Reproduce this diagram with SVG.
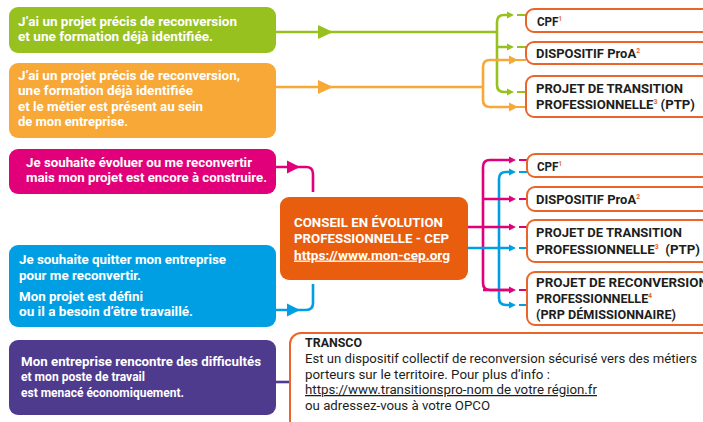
<svg xmlns="http://www.w3.org/2000/svg" width="703" height="422" viewBox="0 0 703 422">
<style>
.bt{font-family:Roboto,"Liberation Sans",sans-serif;font-weight:bold;font-size:13.5px;fill:#fff}
.rt{font-family:Roboto,"Liberation Sans",sans-serif;font-weight:bold;font-size:13.5px;fill:#1d1d1b}
.sup{font-size:7px;fill:#e9652a}
.nt{font-family:Roboto,"Liberation Sans",sans-serif;font-size:12.5px;fill:#1d1d1b}
.opt{fill:#fff;stroke:#e9652a;stroke-width:2}
.c{fill:none;stroke-width:2.6;stroke-linejoin:round}
.s{fill:none;stroke-width:2.2}
.t{stroke:none}
</style>

<g id="n-green">
<rect x="9" y="7" width="267" height="46" rx="9" fill="#97c11f"/>
<text class="bt" x="18" y="26" textLength="219" lengthAdjust="spacingAndGlyphs">J’ai un projet précis de reconversion</text>
<text class="bt" x="18" y="41" textLength="195" lengthAdjust="spacingAndGlyphs">et une formation déjà identifiée.</text>
</g>

<g id="n-orange">
<rect x="9" y="63" width="267" height="75" rx="9" fill="#f7a836"/>
<text class="bt" x="18" y="79.5" textLength="222" lengthAdjust="spacingAndGlyphs">J’ai un projet précis de reconversion,</text>
<text class="bt" x="18" y="95" textLength="175" lengthAdjust="spacingAndGlyphs">une formation déjà identifiée</text>
<text class="bt" x="18" y="110.5" textLength="185" lengthAdjust="spacingAndGlyphs">et le métier est présent au sein</text>
<text class="bt" x="18" y="126" textLength="110" lengthAdjust="spacingAndGlyphs">de mon entreprise.</text>
</g>

<g id="n-pink">
<rect x="9" y="149" width="267" height="45" rx="9" fill="#e2007a"/>
<text class="bt" x="26" y="166.5" textLength="226" lengthAdjust="spacingAndGlyphs">Je souhaite évoluer ou me reconvertir</text>
<text class="bt" x="26" y="181.5" textLength="241" lengthAdjust="spacingAndGlyphs">mais mon projet est encore à construire.</text>
</g>

<g id="n-blue">
<rect x="9" y="245" width="267" height="82" rx="9" fill="#009fe3"/>
<text class="bt" x="19" y="264" textLength="207" lengthAdjust="spacingAndGlyphs">Je souhaite quitter mon entreprise</text>
<text class="bt" x="19" y="279.5" textLength="122" lengthAdjust="spacingAndGlyphs">pour me reconvertir.</text>
<text class="bt" x="19" y="300.5" textLength="124" lengthAdjust="spacingAndGlyphs">Mon projet est défini</text>
<text class="bt" x="19" y="316" textLength="174" lengthAdjust="spacingAndGlyphs">ou il a besoin d’être travaillé.</text>
</g>

<g id="n-purple">
<rect x="9" y="340" width="267" height="75" rx="9" fill="#4e3b8e"/>
<text class="bt" x="21" y="366" textLength="240" lengthAdjust="spacingAndGlyphs">Mon entreprise rencontre des difficultés</text>
<text class="bt" x="21" y="381" textLength="124" lengthAdjust="spacingAndGlyphs">et mon poste de travail</text>
<text class="bt" x="21" y="396.5" textLength="163" lengthAdjust="spacingAndGlyphs">est menacé économiquement.</text>
</g>

<g id="n-cep">
<rect x="280" y="197" width="188" height="83" rx="9" fill="#e85e0e"/>
<text class="bt" x="294" y="226.5" textLength="149" lengthAdjust="spacingAndGlyphs">CONSEIL EN ÉVOLUTION</text>
<text class="bt" x="294" y="243" textLength="155" lengthAdjust="spacingAndGlyphs">PROFESSIONNELLE - CEP</text>
<text class="bt" x="294" y="259.5" textLength="156" lengthAdjust="spacingAndGlyphs" text-decoration="underline">https://www.mon-cep.org</text>
</g>

<g id="connectors">
<g stroke="#97c11f" fill="#97c11f">
<path class="c" d="M276,32 H497"/>
<path class="c" d="M508,15 H504 Q497,15 497,22 V85 Q497,92 504,92 H508 M497,47 H508"/>
<path class="t" d="M318,25 L333,32 L318,39 Z"/>
<path class="t" d="M507,11.5 L514,15 L507,18.5 Z M507,43.5 L514,47 L507,50.5 Z M507,88.5 L514,92 L507,95.5 Z"/>
<path class="s" d="M517,15 H526 M517,47 H526 M517,92 H526"/>
</g>
<g stroke="#f7a836" fill="#f7a836">
<path class="c" d="M276,87 H483"/>
<path class="c" d="M512,60 H490 Q483,60 483,67 V100 Q483,107 490,107 H512"/>
<path class="t" d="M318,80 L333,87 L318,94 Z"/>
<path class="t" d="M509,55.5 L518,60 L509,64.5 Z M509,102.5 L518,107 L509,111.5 Z"/>
<path class="s" d="M516,60 H526 M516,107 H526"/>
</g>
<g stroke="#e2007a" fill="#e2007a">
<path class="c" d="M276,167 H306 Q313,167 313,174 V192"/>
<path class="t" d="M287,160.5 L300,167 L287,173.5 Z"/>
</g>
<g stroke="#009fe3" fill="#009fe3">
<path class="c" d="M276,310 H306 Q313,310 313,303 V284"/>
<path class="t" d="M287,303.5 L300,310 L287,316.5 Z"/>
</g>
<path class="c" stroke="#e2007a" d="M509,160 H490 Q483,160 483,167 V283 Q483,290 490,290 H509"/>
<path class="c" stroke="#009fe3" d="M509,172 H506 Q499,172 499,179 V298 Q499,305 506,305 H509"/>
<g stroke="#e2007a" fill="#e2007a">
<path class="c" d="M468,227 H509 M483,199 H509 M483,290 H509"/>
<path class="t" d="M509,156.5 L516,160 L509,163.5 Z M509,195.5 L516,199 L509,202.5 Z M509,223.5 L516,227 L509,230.5 Z M509,286.5 L516,290 L509,293.5 Z"/>
<path class="s" d="M519,160 H527 M519,199 H527 M519,227 H527 M519,290 H527"/>
</g>
<g stroke="#009fe3" fill="#009fe3">
<path class="c" d="M468,248 H509"/>
<path class="t" d="M509,168.5 L516,172 L509,175.5 Z M509,244.5 L516,248 L509,251.5 Z M509,301.5 L516,305 L509,308.5 Z"/>
<path class="s" d="M519,172 H527 M519,248 H527 M519,305 H527"/>
</g>
<path class="c" stroke="#4e3b8e" d="M276,382 H291"/>
</g>

<g id="o-cpf1">
<rect class="opt" x="526" y="9" width="200" height="23" rx="8"/>
<text class="rt" x="537" y="25.5" textLength="25" lengthAdjust="spacingAndGlyphs">CPF<tspan class="sup" dy="-5">1</tspan></text>
</g>
<g id="o-proa1">
<rect class="opt" x="526" y="42" width="200" height="22" rx="8"/>
<text class="rt" x="536" y="58" textLength="104" lengthAdjust="spacingAndGlyphs">DISPOSITIF ProA<tspan class="sup" dy="-5">2</tspan></text>
</g>
<g id="o-ptp1">
<rect class="opt" x="526" y="76" width="200" height="41" rx="8"/>
<text class="rt" x="536" y="92.5" textLength="147" lengthAdjust="spacingAndGlyphs">PROJET DE TRANSITION</text>
<text class="rt" x="536" y="109" textLength="159" lengthAdjust="spacingAndGlyphs">PROFESSIONNELLE<tspan class="sup" dy="-5">3</tspan><tspan dy="5"> (PTP)</tspan></text>
</g>

<g id="o-cpf2">
<rect class="opt" x="527" y="154" width="200" height="23" rx="8"/>
<text class="rt" x="537" y="170.5" textLength="25" lengthAdjust="spacingAndGlyphs">CPF<tspan class="sup" dy="-5">1</tspan></text>
</g>
<g id="o-proa2">
<rect class="opt" x="527" y="187" width="200" height="24" rx="8"/>
<text class="rt" x="536" y="204" textLength="104" lengthAdjust="spacingAndGlyphs">DISPOSITIF ProA<tspan class="sup" dy="-5">2</tspan></text>
</g>
<g id="o-ptp2">
<rect class="opt" x="527" y="220" width="200" height="42" rx="8"/>
<text class="rt" x="536" y="237" textLength="146" lengthAdjust="spacingAndGlyphs">PROJET DE TRANSITION</text>
<text class="rt" x="536" y="253.5" textLength="164" lengthAdjust="spacingAndGlyphs" xml:space="preserve">PROFESSIONNELLE<tspan class="sup" dy="-5">3</tspan><tspan dy="5">  (PTP)</tspan></text>
</g>
<g id="o-prp">
<rect class="opt" x="527" y="272" width="200" height="53" rx="8"/>
<text class="rt" x="536" y="287" textLength="172" lengthAdjust="spacingAndGlyphs">PROJET DE RECONVERSION</text>
<text class="rt" x="536" y="303" textLength="116" lengthAdjust="spacingAndGlyphs">PROFESSIONNELLE<tspan class="sup" dy="-5">4</tspan></text>
<text class="rt" x="536" y="319" textLength="140" lengthAdjust="spacingAndGlyphs">(PRP DÉMISSIONNAIRE)</text>
</g>

<g id="o-transco">
<rect class="opt" x="290" y="333" width="440" height="110" rx="11"/>
<text class="rt" x="305" y="347" textLength="57" lengthAdjust="spacingAndGlyphs">TRANSCO</text>
<text class="nt" x="305" y="363" textLength="392" lengthAdjust="spacingAndGlyphs">Est un dispositif collectif de reconversion sécurisé vers des métiers</text>
<text class="nt" x="305" y="378.5" textLength="245" lengthAdjust="spacingAndGlyphs">porteurs sur le territoire. Pour plus d’info :</text>
<text class="nt" x="305" y="394" textLength="292" lengthAdjust="spacingAndGlyphs" text-decoration="underline">https://www.transitionspro-nom de votre région.fr</text>
<text class="nt" x="305" y="410" textLength="185" lengthAdjust="spacingAndGlyphs">ou adressez-vous à votre OPCO</text>
</g>
</svg>
